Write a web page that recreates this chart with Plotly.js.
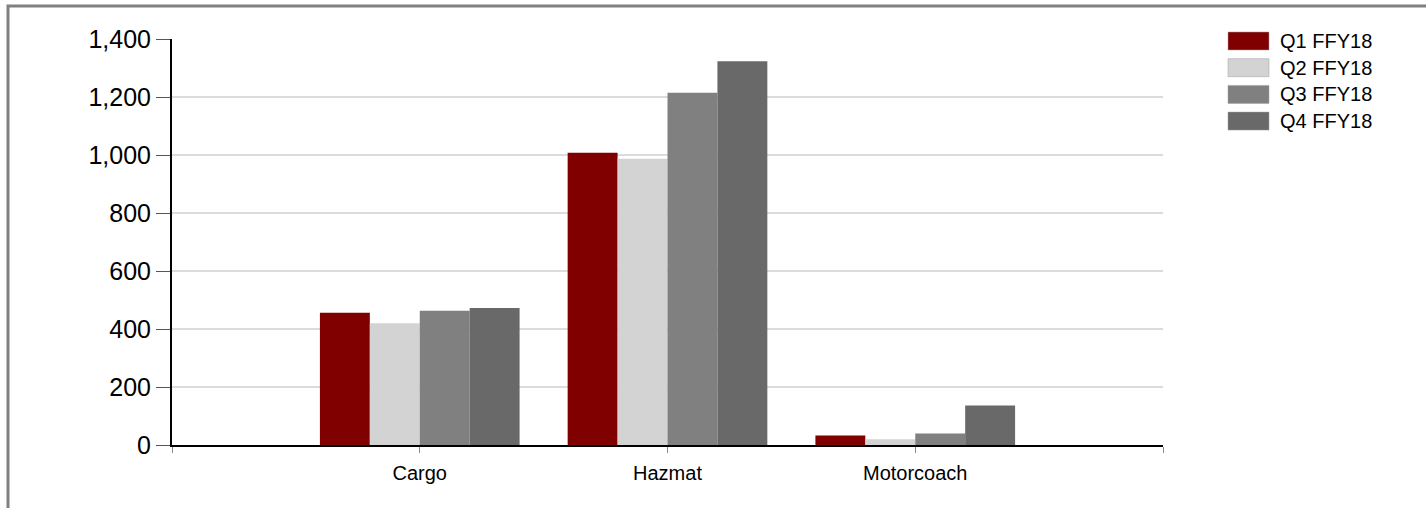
<!DOCTYPE html>
<html>
<head>
<meta charset="utf-8">
<script src="https://cdn.plot.ly/plotly-3.0.1.min.js"></script>
<style>html,body{margin:0;padding:0;background:#fff;}#chart{width:1426px;height:508px;}</style>
</head>
<body>
<div id="chart"></div>
<script>
// ---- data ----
const categories = ["Cargo", "Hazmat", "Motorcoach"];
const seriesNames = ["Q1 FFY18", "Q2 FFY18", "Q3 FFY18", "Q4 FFY18"];
const q1 = [456, 1008, 33];
const q2 = [420, 987, 20];
const q3 = [463, 1215, 40];
const q4 = [472, 1323, 136];
const yTickVals = [0, 200, 400, 600, 800, 1000, 1200, 1400];
const yTickText = ["0", "200", "400", "600", "800", "1,000", "1,200", "1,400"];

// ---- styles ----
const colors = ["#800000", "#d3d3d3", "#808080", "#696969"];
const FONT = "Arial, 'Liberation Sans', sans-serif";
const W = 1426, H = 508;
const M = {l: 172, r: 263, t: 39, b: 63};
const plotW = W - M.l - M.r, plotH = H - M.t - M.b;
const px2x = p => (p - M.l) / plotW;
const px2y = p => (H - M.b - p) / plotH;

const seriesValues = [q1, q2, q3, q4];
const xPos = categories.map((c, i) => i + 1);

const traces = seriesValues.map((vals, k) => ({
  type: "bar",
  name: seriesNames[k],
  x: xPos,
  y: vals,
  marker: {color: colors[k]},
  showlegend: false,
  hoverinfo: "y+name"
}));

// custom legend (wide swatches)
const shapes = [];
const annotations = [];
seriesNames.forEach((n, k) => {
  const top = 32 + k * 26.7;
  shapes.push({
    type: "rect", xref: "paper", yref: "paper",
    x0: px2x(1228), x1: px2x(1269), y0: px2y(top + 18), y1: px2y(top),
    fillcolor: colors[k], line: {color: "rgba(160,160,160,0.5)", width: 1}
  });
  annotations.push({
    xref: "paper", yref: "paper", x: px2x(1278), y: px2y(top + 9),
    xanchor: "left", yanchor: "middle", showarrow: false,
    text: n, font: {family: FONT, size: 20, color: "#000"}
  });
});
// outer frame
shapes.push({
  type: "rect", xref: "paper", yref: "paper", layer: "below",
  x0: px2x(8), x1: px2x(1500), y0: px2y(560), y1: px2y(6),
  line: {color: "#808080", width: 3}, fillcolor: "rgba(0,0,0,0)"
});

const layout = {
  width: W, height: H,
  margin: M,
  paper_bgcolor: "#fff", plot_bgcolor: "#fff",
  font: {family: FONT, color: "#000"},
  barmode: "group",
  bargap: 0.194,
  bargroupgap: 0,
  showlegend: false,
  xaxis: {
    type: "linear",
    range: [0, categories.length + 1],
    tickvals: [0].concat(xPos, [categories.length + 1]),
    ticktext: [""].concat(categories, [""]),
    ticks: "outside", ticklen: 6, tickwidth: 1, tickcolor: "#888",
    ticklabelstandoff: 3,
    showline: true, linecolor: "#000", linewidth: 2,
    showgrid: false, zeroline: false,
    tickfont: {family: FONT, size: 20, color: "#000"},
    fixedrange: true
  },
  yaxis: {
    range: [0, 1400],
    tickvals: yTickVals, ticktext: yTickText,
    ticks: "outside", ticklen: 14, tickwidth: 1, tickcolor: "#555",
    showline: true, linecolor: "#000", linewidth: 2,
    showgrid: true, gridcolor: "#dcdcdc", gridwidth: 2,
    zeroline: false,
    tickfont: {family: FONT, size: 25, color: "#000"},
    fixedrange: true
  },
  shapes: shapes,
  annotations: annotations
};

Plotly.newPlot("chart", traces, layout, {displayModeBar: false, staticPlot: true});
</script>
</body>
</html>
